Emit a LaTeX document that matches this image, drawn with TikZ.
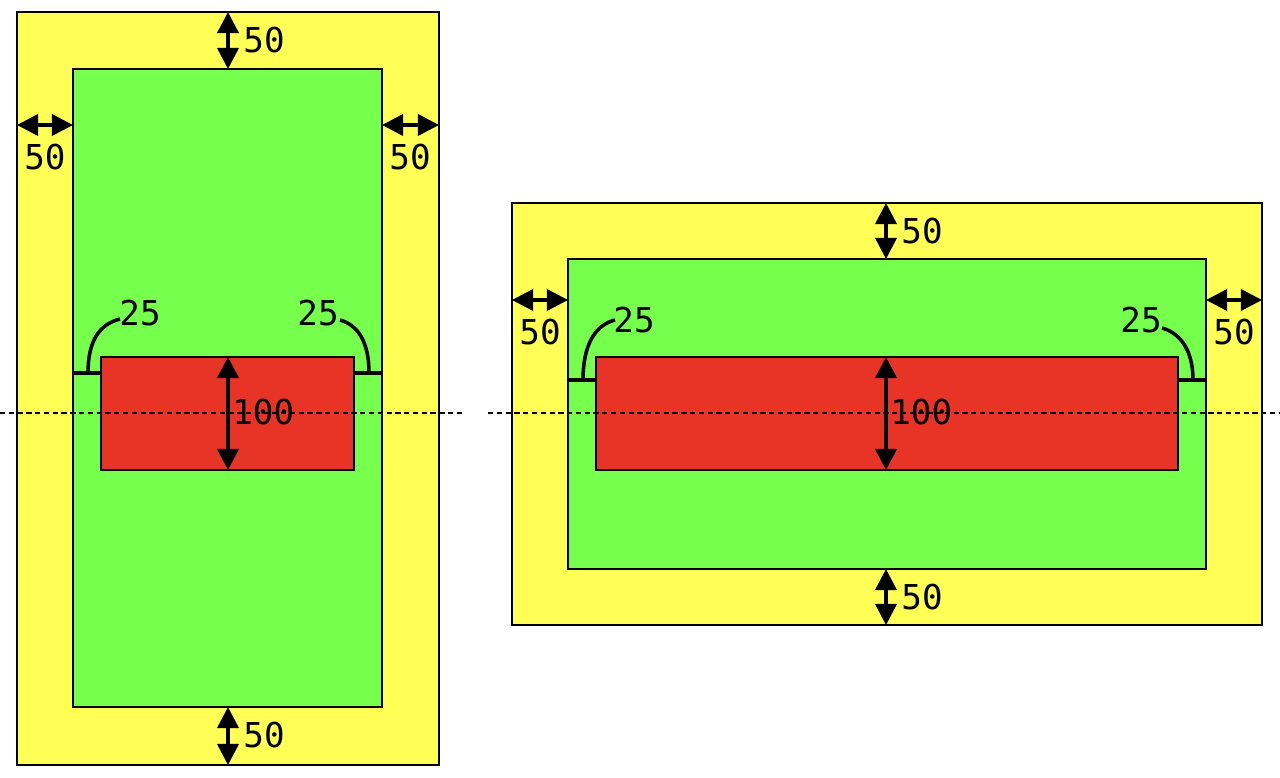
\documentclass[tikz,border=0pt]{standalone}
\usepackage{fontspec}
\setmonofont{DejaVu Sans Mono}
\usetikzlibrary{arrows.meta}
\definecolor{marginyellow}{RGB}{255,255,85}
\definecolor{padgreen}{RGB}{118,255,76}
\definecolor{itemred}{RGB}{232,52,38}
\tikzset{
	frame/.style={draw=black, line width=1pt},
	dimarrow/.style={line width=2pt, {Triangle[length=12pt,width=12pt]}-{Triangle[length=12pt,width=12pt]}},
	dimlabel/.style={font=\ttfamily\fontsize{19.5}{22}\selectfont, inner sep=0pt},
	gapmark/.style={line width=2pt},
	axis/.style={line width=0.7pt, dash pattern=on 3pt off 2pt}
}
\begin{document}
\begin{tikzpicture}[x=0.02cm, y=-0.02cm]
			\useasboundingbox (0,0) rectangle (1280,777);
			% portrait
			\draw [frame, fill=marginyellow] (17,12) rectangle (439,765);
			\draw [frame, fill=padgreen] (73,69) rectangle (382,707);
			\draw [frame, fill=itemred] (101,357) rectangle (354,470);
			\draw [axis] (0,413) -- (462,413);
			\draw [dimarrow] (228,12) -- (228,69);
			\draw [dimarrow] (228,707) -- (228,765);
			\draw [dimarrow] (17,125) -- (73,125);
			\draw [dimarrow] (382,125) -- (439,125);
			\draw [dimarrow] (228,357) -- (228,470);
			\node [dimlabel] (pt) at (264,40) {50};
			\node [dimlabel] (pb) at (264,735) {50};
			\node [dimlabel] (pl) at (45,157) {50};
			\node [dimlabel] (pr) at (410,157) {50};
			\node [dimlabel, anchor=west] (ph) at (232,412) {100};
			\draw [gapmark] (73,373) -- (101,373);
			\draw [gapmark] (354,373) -- (382,373);
			\draw [gapmark] (88,373) .. controls (88,340) and (100,324) .. (120,319);
			\draw [gapmark] (369,373) .. controls (369,342) and (358,325) .. (340,320);
			\node [dimlabel] (pgl) at (140,313) {25};
			\node [dimlabel] (pgr) at (318,313) {25};
			% landscape
			\draw [frame, fill=marginyellow] (512,203) rectangle (1262,625);
			\draw [frame, fill=padgreen] (568,259) rectangle (1206,569);
			\draw [frame, fill=itemred] (596,357) rectangle (1178,470);
			\draw [axis] (488,413) -- (1280,413);
			\draw [dimarrow] (886,203) -- (886,259);
			\draw [dimarrow] (886,569) -- (886,625);
			\draw [dimarrow] (512,300) -- (568,300);
			\draw [dimarrow] (1206,300) -- (1262,300);
			\draw [dimarrow] (886,357) -- (886,470);
			\node [dimlabel] (lt) at (922,231) {50};
			\node [dimlabel] (lb) at (922,597) {50};
			\node [dimlabel] (ll) at (540,332) {50};
			\node [dimlabel] (lr) at (1234,332) {50};
			\node [dimlabel, anchor=west] (lh) at (890,412) {100};
			\draw [gapmark] (568,380) -- (596,380);
			\draw [gapmark] (1178,380) -- (1206,380);
			\draw [gapmark] (583,380) .. controls (583,345) and (595,325) .. (615,320);
			\draw [gapmark] (1193,380) .. controls (1193,350) and (1180,333) .. (1162,328);
			\node [dimlabel] (lgl) at (634,320) {25};
			\node [dimlabel] (lgr) at (1141,320) {25};
			\end{tikzpicture}
\end{document}
